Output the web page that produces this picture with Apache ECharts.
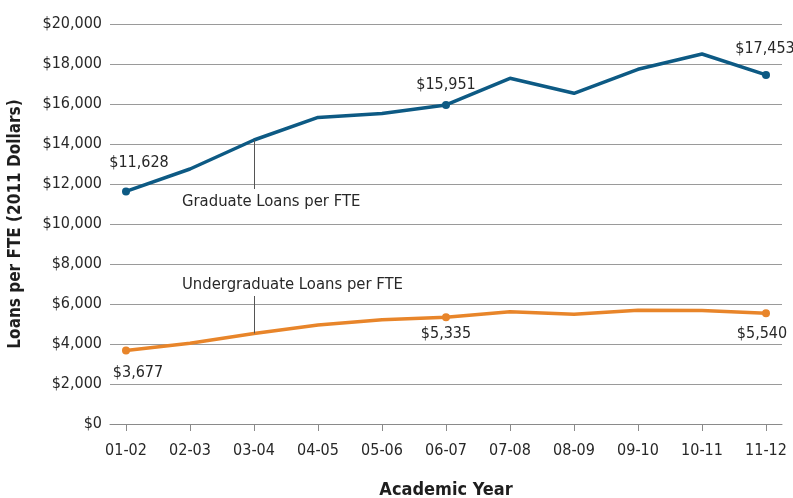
<!DOCTYPE html>
<html>
<head>
<meta charset="utf-8">
<script src="https://cdn.jsdelivr.net/npm/echarts@6/dist/echarts.min.js"></script>
<style>
  html, body { margin: 0; padding: 0; background: #fff; }
  #chart { width: 793px; height: 498px; }
</style>
</head>
<body>
<div id="chart"></div>
<script>
// academic years on the x axis
var years = ['01-02', '02-03', '03-04', '04-05', '05-06', '06-07', '07-08', '08-09', '09-10', '10-11', '11-12']
// loans per FTE, 2011 dollars
var gradLoans = [11628, 12750, 14200, 15330, 15530, 15951, 17285, 16535, 17735, 18500, 17453]
var undergradLoans = [3677, 4040, 4530, 4950, 5210, 5335, 5617, 5485, 5685, 5670, 5540]
// points that get a dot and a value label
var labelled = [0, 5, 10]

var FONT = '"Liberation Sans Narrow", "DejaVu Sans Condensed", "Roboto Condensed", sans-serif'
var TXT = '#282828'

function fmt (v) {
  return '$' + String(v).replace(/\B(?=(\d{3})+(?!\d))/g, ',')
}

// label offsets for the labelled points
var gradLabelPos = { 0: [13, -12], 5: [0, -3], 10: [-1, -9] }
var underLabelPos = { 0: [12, 5], 5: [0, 0], 10: [-4, 4] }

function buildSeriesData (values, above, offsets) {
  return values.map(function (v, i) {
    var item = { value: [i, v] }
    if (labelled.indexOf(i) >= 0) {
      item.symbol = 'circle'
      item.symbolSize = 8
      item.label = {
        show: true,
        position: above ? 'top' : 'bottom',
        offset: offsets[i],
        formatter: fmt(v),
        fontFamily: FONT,
        fontSize: 16,
        color: TXT
      }
    } else {
      item.symbol = 'none'
    }
    return item
  })
}

var chart = echarts.init(document.getElementById('chart'))

var option = {
  animation: false,
  backgroundColor: '#fff',
  grid: {
    left: 110,
    right: 11,
    top: 24,
    bottom: 74,
    containLabel: false,
    outerBoundsMode: 'none'
  },
  xAxis: {
    type: 'value',
    min: -0.25,
    max: 10.25,
    name: 'Academic Year',
    nameLocation: 'middle',
    nameGap: 57,
    nameTextStyle: {
      fontFamily: FONT,
      fontWeight: 'bold',
      fontSize: 18,
      color: '#1e1e1e'
    },
    axisLine: { show: true, lineStyle: { color: '#8a8a8a', width: 1 } },
    axisTick: {
      show: true,
      length: 7,
      customValues: years.map(function (y, i) { return i }),
      lineStyle: { color: '#8a8a8a' }
    },
    axisLabel: {
      customValues: years.map(function (y, i) { return i }),
      formatter: function (v) { return years[Math.round(v)] },
      margin: 19,
      fontFamily: FONT,
      fontSize: 16,
      color: TXT
    },
    splitLine: { show: false }
  },
  yAxis: {
    type: 'value',
    min: 0,
    max: 20000,
    interval: 2000,
    name: 'Loans per FTE (2011 Dollars)',
    nameLocation: 'middle',
    nameGap: 86,
    nameTextStyle: {
      fontFamily: FONT,
      fontWeight: 'bold',
      fontSize: 17,
      color: '#1e1e1e'
    },
    axisLine: { show: false },
    axisTick: { show: false },
    axisLabel: {
      margin: 8,
      fontFamily: FONT,
      fontSize: 16,
      color: TXT,
      formatter: function (v) { return fmt(v) }
    },
    splitLine: { show: true, lineStyle: { color: '#9a9a9a', width: 1 } }
  },
  series: [
    {
      name: 'Graduate Loans per FTE',
      type: 'line',
      data: buildSeriesData(gradLoans, true, gradLabelPos),
      lineStyle: { color: '#0d5a84', width: 3.5 },
      itemStyle: { color: '#0d5a84' },
      z: 3,
      markLine: {
        silent: true,
        symbol: 'none',
        lineStyle: { color: '#555', width: 1, type: 'solid' },
        label: { show: false },
        data: [[{ coord: [2, gradLoans[2]] }, { coord: [2, 11750] }]]
      },
      markPoint: {
        silent: true,
        symbol: 'circle',
        symbolSize: 0,
        data: [{
          coord: [0.875, 11115],
          label: {
            show: true,
            position: 'right',
            distance: 0,
            formatter: 'Graduate Loans per FTE',
            fontFamily: FONT,
            fontSize: 16.5,
            color: TXT
          }
        }]
      }
    },
    {
      name: 'Undergraduate Loans per FTE',
      type: 'line',
      data: buildSeriesData(undergradLoans, false, underLabelPos),
      lineStyle: { color: '#e8852a', width: 3.5 },
      itemStyle: { color: '#e8852a' },
      z: 3,
      markLine: {
        silent: true,
        symbol: 'none',
        lineStyle: { color: '#555', width: 1, type: 'solid' },
        label: { show: false },
        data: [[{ coord: [2, undergradLoans[2]] }, { coord: [2, 6400] }]]
      },
      markPoint: {
        silent: true,
        symbol: 'circle',
        symbolSize: 0,
        data: [{
          coord: [0.875, 6950],
          label: {
            show: true,
            position: 'right',
            distance: 0,
            formatter: 'Undergraduate Loans per FTE',
            fontFamily: FONT,
            fontSize: 16.5,
            color: TXT
          }
        }]
      }
    }
  ]
}

chart.setOption(option)
</script>
</body>
</html>
